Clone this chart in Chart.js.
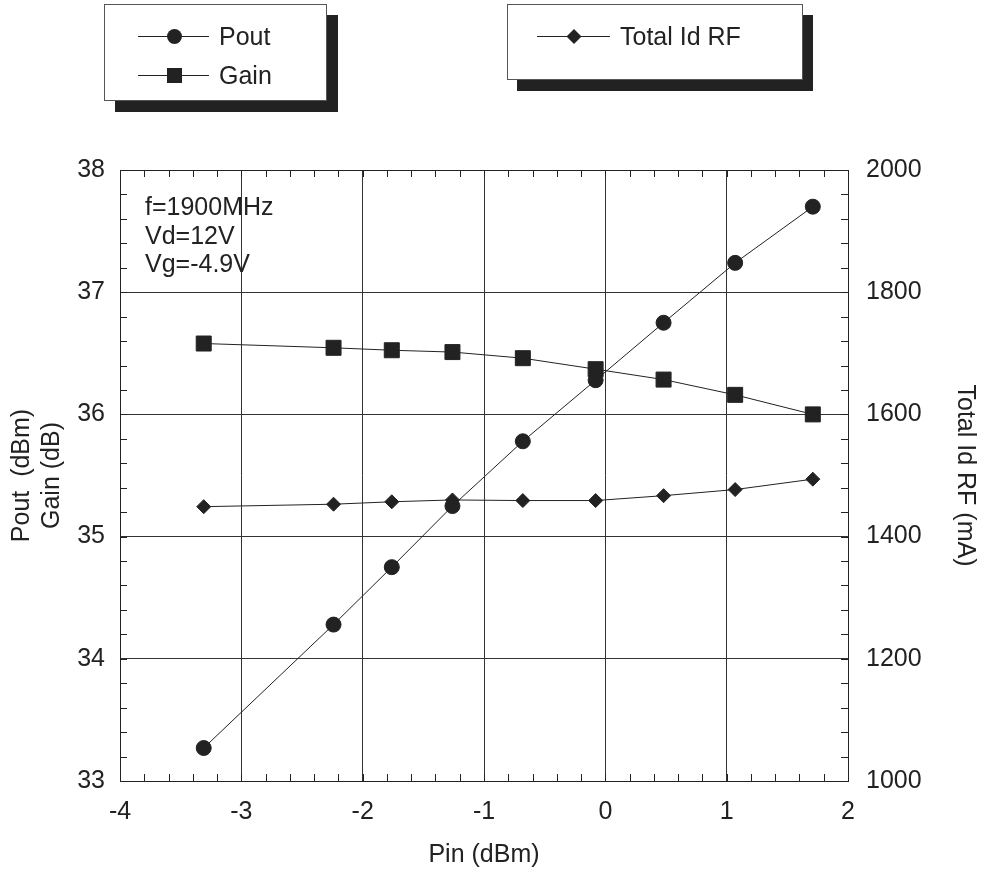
<!DOCTYPE html>
<html>
<head>
<meta charset="utf-8">
<script src="https://cdn.jsdelivr.net/npm/chart.js@4/dist/chart.umd.min.js"></script>
<style>
  body { margin: 0; background: #fff; font-family: "Liberation Sans", Arial, sans-serif; }
  #wrap { position: relative; width: 987px; height: 873px; }
  canvas { position: absolute; left: 0; top: 0; }
  .legenda { position: absolute; background: #fff; border: 1px solid #555; }
  .item { position: absolute; font-size: 25px; line-height: 30px; color: #222; white-space: nowrap; }
  .nota { position: absolute; left: 145px; top: 192px; font-size: 25px; line-height: 28.5px; color: #222; }
</style>
</head>
<body>
<div id="wrap">
  <canvas id="grafico" width="987" height="873"></canvas>
  <div class="legenda" style="left:104px; top:4px; width:221px; height:95px; box-shadow: 11px 11px 0 #222;"></div>
  <div class="legenda" style="left:507px; top:4px; width:294px; height:74px; box-shadow: 10px 11px 0 #222;"></div>
  <canvas id="leg" width="987" height="120" style="pointer-events:none"></canvas>
  <div class="item" style="left:219px; top:21px;">Pout</div>
  <div class="item" style="left:219px; top:60px;">Gain</div>
  <div class="item" style="left:620px; top:21px;">Total Id RF</div>
  <div class="nota">f=1900MHz<br>Vd=12V<br>Vg=-4.9V</div>
</div>
<script>
// dados
const pin = [-3.31, -2.24, -1.76, -1.26, -0.68, -0.08, 0.48, 1.07, 1.71];
const pout = [33.27, 34.28, 34.75, 35.25, 35.78, 36.28, 36.75, 37.24, 37.70];
const ganho = [36.58, 36.545, 36.525, 36.51, 36.46, 36.37, 36.285, 36.16, 36.0];
const idTotal = [1449, 1453, 1457, 1460, 1459, 1459, 1467, 1477, 1494];

const ticksX = [-4, -3, -2, -1, 0, 1, 2];
const ticksEsq = [33, 34, 35, 36, 37, 38];
const ticksDir = [1000, 1200, 1400, 1600, 1800, 2000];

const preto = '#222';
const fonte = { family: '"Liberation Sans", Arial, sans-serif', size: 25 };

function pares(xs, ys) {
    return xs.map((x, i) => ({ x: x, y: ys[i] }));
}

// marcadores da legenda desenhados à mão
const leg = document.getElementById('leg').getContext('2d');
leg.strokeStyle = preto; leg.fillStyle = preto; leg.lineWidth = 1;
[[138, 209, 36], [138, 209, 75], [537, 610, 36]].forEach(l => {
    leg.beginPath(); leg.moveTo(l[0], l[2] + 0.5); leg.lineTo(l[1], l[2] + 0.5); leg.stroke();
});
leg.beginPath(); leg.arc(174.5, 36.5, 7.5, 0, Math.PI * 2); leg.fill();
leg.fillRect(167, 68, 15, 15);
leg.beginPath(); leg.moveTo(574, 29); leg.lineTo(581.5, 36.5); leg.lineTo(574, 44); leg.lineTo(566.5, 36.5); leg.closePath(); leg.fill();

// ticks menores para dentro e moldura
const ticksMenores = {
    id: 'ticksMenores',
    afterDraw(chart) {
        const c = chart.ctx;
        const a = chart.chartArea;
        const sx = chart.scales.x, sy = chart.scales.y, sd = chart.scales.y2;
        c.save();
        c.strokeStyle = preto;
        c.lineWidth = 1;
        c.beginPath();
        for (let v = -4; v <= 2.001; v += 0.2) {
            const px = Math.round(sx.getPixelForValue(v)) + 0.5;
            c.moveTo(px, a.bottom); c.lineTo(px, a.bottom - 7);
            c.moveTo(px, a.top); c.lineTo(px, a.top + 7);
        }
        for (let v = 33; v <= 38.001; v += 0.2) {
            const py = Math.round(sy.getPixelForValue(v)) + 0.5;
            c.moveTo(a.left, py); c.lineTo(a.left + 7, py);
        }
        for (let v = 1000; v <= 2000; v += 40) {
            const py = Math.round(sd.getPixelForValue(v)) + 0.5;
            c.moveTo(a.right, py); c.lineTo(a.right - 7, py);
        }
        c.stroke();
        c.strokeRect(a.left + 0.5, a.top + 0.5, a.right - a.left, a.bottom - a.top);
        c.restore();
    }
};

const contexto = document.getElementById('grafico').getContext('2d');

new Chart(contexto, {
    type: 'line',
    data: {
        datasets: [
            {
                label: 'Pout', data: pares(pin, pout), yAxisID: 'y',
                borderColor: preto, backgroundColor: preto, borderWidth: 1,
                pointStyle: 'circle', pointRadius: 7.5
            },
            {
                label: 'Gain', data: pares(pin, ganho), yAxisID: 'y',
                borderColor: preto, backgroundColor: preto, borderWidth: 1,
                pointStyle: 'rect', pointRadius: 10.6
            },
            {
                label: 'Total Id RF', data: pares(pin, idTotal), yAxisID: 'y2',
                borderColor: preto, backgroundColor: preto, borderWidth: 1,
                pointStyle: 'rectRot', pointRadius: 7
            }
        ]
    },
    options: {
        responsive: false,
        animation: false,
        events: [],
        layout: { padding: { top: 170, left: 0, right: 0, bottom: 0 } },
        plugins: { legend: { display: false }, tooltip: { enabled: false } },
        scales: {
            x: {
                type: 'linear', min: -4, max: 2,
                afterBuildTicks: s => { s.ticks = ticksX.map(v => ({ value: v })); },
                afterFit: s => { s.height = 92; },
                grid: { color: '#333', drawTicks: false },
                border: { color: preto },
                ticks: { color: preto, font: fonte, padding: 16, callback: v => String(v) },
                title: { display: true, text: 'Pin (dBm)', color: preto, font: fonte, padding: { top: 0, bottom: 3 } }
            },
            y: {
                type: 'linear', position: 'left', min: 33, max: 38,
                afterBuildTicks: s => { s.ticks = ticksEsq.map(v => ({ value: v })); },
                afterFit: s => { s.width = 120; },
                grid: { color: '#333', drawTicks: false },
                border: { color: preto },
                ticks: { color: preto, font: fonte, padding: 15, callback: v => String(v) },
                title: { display: true, text: ['Pout  (dBm)', 'Gain (dB)'], color: preto, font: fonte, padding: { top: 7, bottom: 0 } }
            },
            y2: {
                type: 'linear', position: 'right', min: 1000, max: 2000,
                afterBuildTicks: s => { s.ticks = ticksDir.map(v => ({ value: v })); },
                afterFit: s => { s.width = 139; },
                grid: { drawOnChartArea: false, drawTicks: false },
                border: { color: preto },
                ticks: { color: preto, font: fonte, padding: 18, callback: v => String(v) },
                title: { display: true, text: 'Total Id RF (mA)', color: preto, font: fonte, padding: { top: 7, bottom: 0 } }
            }
        }
    },
    plugins: [ticksMenores]
});
</script>
</body>
</html>
